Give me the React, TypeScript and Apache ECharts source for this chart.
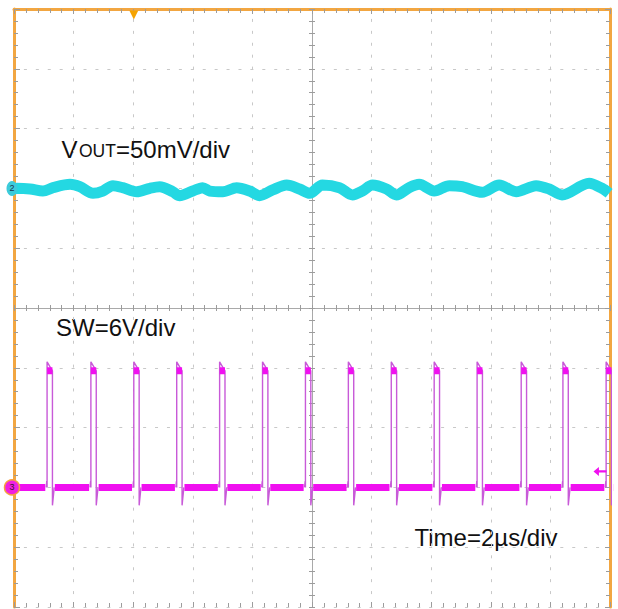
import { useEffect, useRef } from "react";
import * as echarts from "echarts";

// ---- data (time in µs relative to screen centre) ----
const RIPPLE_T = [-10.0, -9.9, -9.46, -9.03, -8.69, -8.12, -7.79, -7.35, -7.02, -6.68, -6.35, -5.88, -5.44, -5.11, -4.67, -4.44, -4.0, -3.67, -3.43, -2.99, -2.53, -2.09, -1.76, -1.32, -0.85, -0.42, -0.08, 0.35, 0.92, 1.36, 1.69, 2.03, 2.5, 2.83, 3.27, 3.6, 4.1, 4.61, 5.04, 5.71, 6.28, 6.85, 7.52, 7.96, 8.39, 9.3, 9.73, 9.97];
const RIPPLE_MV = [-0.5, 0.1, -0.5, -2.2, 0.6, 3.4, 1.4, -4.1, -2.2, 2.3, 0.6, -2.8, 0.1, 1.4, -2.8, -6.1, -2.2, 0.6, -2.2, -2.8, 0.6, -2.2, -6.1, -1.3, 2.8, -0.5, -4.1, 2.8, 0.6, -5.5, -2.2, 2.8, -0.5, -5.5, 0.8, 3.4, -2.2, 2.3, 1.4, -3.3, 2.8, -2.8, 2.3, -0.5, -5.5, 4.3, 0.1, -4.1];

const SW_RISE_T = [-8.89, -7.42, -5.98, -4.54, -3.1, -1.66, -0.22, 1.22, 2.66, 4.1, 5.54, 7.02, 8.42, 9.87];
const SW_WIDTH_US = 0.18;
const SW_HIGH_V = 11.7;
const SW_OVERSHOOT_V = 12.6;
const SW_UNDERSHOOT_V = -1.8;
const SW_PRESPIKE_V = 0.6;

const VOUT_OFFSET_DIV = 2;
const VOUT_MV_PER_DIV = 50;
const SW_OFFSET_DIV = -3;
const SW_V_PER_DIV = 6;

const TRIGGER_T = -5.98;
const TRIGGER_LEVEL_V = 1.6;

const X_MIN = -10;
const X_MAX = 10;
const Y_MIN = -5;
const Y_MAX = 5;

// ---- styling ----
const FONT = '"Liberation Sans", Arial, sans-serif';
const ORANGE = "#f2a641";
const CYAN = "#24d8e2";
const MAGENTA = "#f010f0";
const EDGE = "#c85ad8";
const DOT = "#c8c8c8";
const AX = "#a9a9a9";
const TICK = "#9c9c9c";

const swY = (v: number) => SW_OFFSET_DIV + v / SW_V_PER_DIV;
const voY = (mv: number) => VOUT_OFFSET_DIV + mv / VOUT_MV_PER_DIV;

function buildOption() {
  const vout = RIPPLE_T.map((t, i) => [t, voY(RIPPLE_MV[i])]);

  const base: any[] = [[X_MIN - 0.5, swY(0)]];
  const edges: any[] = [];
  const tops: any[] = [];
  SW_RISE_T.forEach((tr) => {
    const tf = tr + SW_WIDTH_US;
    base.push([tr - 0.06, swY(0)]);
    base.push([tr - 0.05, null]);
    base.push([tf + 0.08, swY(0)]);
    edges.push([tr - 0.03, swY(0)]);
    edges.push([tr - 0.01, swY(SW_PRESPIKE_V)]);
    edges.push([tr, swY(0)]);
    edges.push([tr, swY(SW_OVERSHOOT_V)]);
    edges.push([tf, swY(SW_HIGH_V)]);
    edges.push([tf, swY(SW_UNDERSHOOT_V)]);
    edges.push([tf + 0.06, swY(0)]);
    edges.push([tf + 0.07, null]);
    tops.push([tr, swY(SW_HIGH_V)]);
    tops.push([tf, swY(SW_HIGH_V)]);
    tops.push([tf + 0.01, null]);
  });
  base.push([X_MAX + 0.5, swY(0)]);

  const dotted = { color: DOT, width: 1, type: [3, 8.92], dashOffset: 1.5 };
  const hidden = { show: false };
  const xBase = { type: "value", min: X_MIN, max: X_MAX, interval: 2, axisLabel: hidden, splitLine: hidden };
  const yBase = { type: "value", min: Y_MIN, max: Y_MAX, interval: 1, axisLabel: hidden, splitLine: hidden };
  const tick = (inside: boolean, len: number, minorLen: number) => ({
    axisTick: { show: true, inside, length: len, lineStyle: { color: TICK, width: 1 } },
    minorTick: { show: true, splitNumber: 5, length: minorLen, lineStyle: { color: TICK, width: 1 } },
  });

  return {
    animation: false,
    backgroundColor: "#ffffff",
    grid: { left: 14, top: 9, width: 596, height: 598, containLabel: false },
    xAxis: [
      { ...xBase, position: "top", axisLine: { show: true, onZero: false, lineStyle: { color: ORANGE, width: 3 } }, ...tick(true, 5, 4), splitLine: { show: true, lineStyle: dotted } },
      { ...xBase, position: "bottom", axisLine: { show: false, onZero: false }, ...tick(true, 5, 4) },
      { ...xBase, position: "bottom", axisLine: { show: true, onZero: true, onZeroAxisIndex: 0, lineStyle: { color: AX, width: 1 } }, ...tick(true, 3, 3) },
      { ...xBase, position: "bottom", axisLine: { show: false, onZero: true, onZeroAxisIndex: 0 }, ...tick(false, 3, 3) },
    ],
    yAxis: [
      { ...yBase, position: "left", axisLine: { show: true, onZero: false, lineStyle: { color: ORANGE, width: 3 } }, ...tick(true, 6, 4), splitLine: { show: true, lineStyle: dotted } },
      { ...yBase, position: "right", axisLine: { show: true, onZero: false, lineStyle: { color: ORANGE, width: 3 } }, ...tick(true, 5, 4) },
      { ...yBase, position: "left", axisLine: { show: true, onZero: true, onZeroAxisIndex: 0, lineStyle: { color: AX, width: 1 } }, ...tick(true, 3, 3) },
      { ...yBase, position: "left", axisLine: { show: false, onZero: true, onZeroAxisIndex: 0 }, ...tick(false, 3, 3) },
    ],
    series: [
      {
        name: "VOUT",
        type: "line",
        data: vout,
        smooth: 0.3,
        showSymbol: false,
        silent: true,
        lineStyle: { color: CYAN, width: 11 },
        z: 3,
      },
      {
        name: "SW base",
        type: "line",
        data: base,
        connectNulls: false,
        showSymbol: false,
        silent: true,
        lineStyle: { color: MAGENTA, width: 7 },
        z: 4,
      },
      {
        name: "SW edges",
        type: "line",
        data: edges,
        connectNulls: false,
        showSymbol: false,
        silent: true,
        lineStyle: { color: EDGE, width: 1.4 },
        z: 5,
      },
      {
        name: "SW top",
        type: "line",
        data: tops,
        connectNulls: false,
        showSymbol: false,
        silent: true,
        lineStyle: { color: MAGENTA, width: 7 },
        z: 5,
      },
      {
        name: "markers",
        type: "scatter",
        data: [],
        silent: true,
        z: 20,
        markPoint: {
          silent: true,
          z: 20,
          data: [
            {
              coord: [X_MIN, VOUT_OFFSET_DIV],
              symbol: "circle",
              symbolSize: [11, 15],
              symbolOffset: [-2, 0],
              itemStyle: { color: "#3ccbdb" },
              label: { show: true, position: "inside", formatter: "2", color: "#1c3550", fontSize: 9, fontFamily: FONT },
            },
            {
              coord: [TRIGGER_T, Y_MAX],
              symbol: "triangle",
              symbolRotate: 180,
              symbolSize: [9, 9],
              symbolOffset: [0, 6],
              itemStyle: { color: "#f5a300" },
              label: { show: false },
            },
            {
              coord: [X_MIN, SW_OFFSET_DIV],
              symbol: "circle",
              symbolSize: 15,
              symbolOffset: [-2, 0],
              itemStyle: { color: "#f020e0", borderColor: "#f5a040", borderWidth: 1.5 },
              label: { show: true, position: "inside", formatter: "3", color: "#3a1030", fontSize: 9, fontFamily: FONT },
            },
            {
              coord: [X_MAX, swY(TRIGGER_LEVEL_V)],
              symbol: "path://M0,4 L5,0 L5,3 L12,3 L12,5 L5,5 L5,8 Z",
              symbolSize: [13, 9],
              symbolOffset: [-10, 0],
              itemStyle: { color: MAGENTA },
              label: { show: false },
            },
          ],
        },
      },
    ],
    graphic: [
      {
        type: "text",
        x: 61.5,
        y: 149,
        silent: true,
        style: {
          text: "{a|V}{b|OUT}{a|=50mV/div}",
          verticalAlign: "middle",
          rich: {
            a: { fontSize: 24, fontFamily: FONT, fill: "#111", verticalAlign: "bottom" },
            b: { fontSize: 17.5, fontFamily: FONT, fill: "#111", verticalAlign: "bottom", padding: [0, 0, 1, 1.5] },
          },
        },
      },
      {
        type: "text",
        x: 56,
        y: 327,
        silent: true,
        style: { text: "SW=6V/div", fontSize: 24, fontFamily: FONT, fill: "#111", verticalAlign: "middle" },
      },
      {
        type: "text",
        x: 414.5,
        y: 537,
        silent: true,
        style: { text: "Time=2µs/div", fontSize: 24, fontFamily: FONT, fill: "#111", verticalAlign: "middle" },
      },
    ],
  };
}

export default function App() {
  const ref = useRef<HTMLDivElement>(null);
  useEffect(() => {
    if (!ref.current) return;
    const chart = echarts.init(ref.current, null, { renderer: "svg" });
    chart.setOption(buildOption() as any);
    return () => chart.dispose();
  }, []);
  return (
    <div
      ref={ref}
      style={{ position: "fixed", left: 0, top: 0, width: 618, height: 609, background: "#fff" }}
    />
  );
}
